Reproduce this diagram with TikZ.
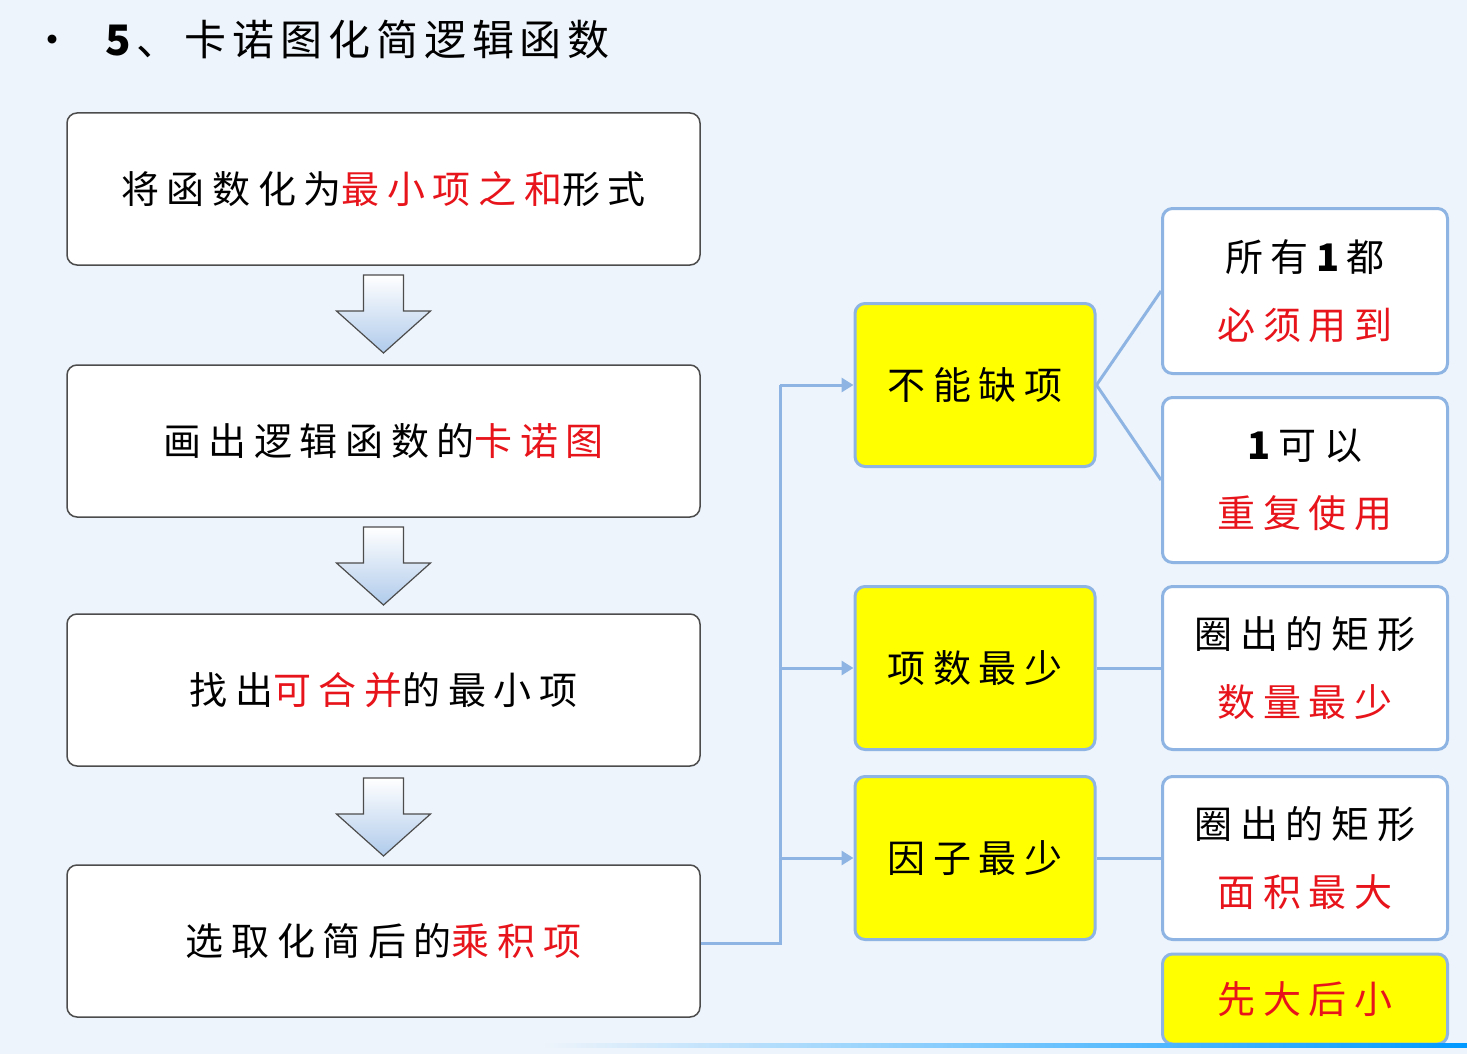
\documentclass[tikz,border=0pt]{standalone}
\usepackage{fontspec}
\setmainfont{Liberation Serif}
\newfontfamily\cjk[LetterSpace=20]{Noto Sans CJK SC}
\newfontfamily\cjkt[LetterSpace=14]{Noto Sans CJK SC}
\usetikzlibrary{arrows.meta}
\definecolor{bg}{HTML}{EEF4FB}
\definecolor{edge}{HTML}{8DB4E2}
\definecolor{rd}{HTML}{E8141B}
\definecolor{yl}{HTML}{FFFF00}
\begin{document}
\begin{tikzpicture}[x=1pt,y=-1pt,
 lbox/.style={draw=black!70,line width=1.5pt,rounded corners=10pt,fill=white,minimum width=633pt,minimum height=152pt,font=\cjk\fontsize{38}{44}\selectfont},
 ybox/.style={draw=edge,line width=3pt,rounded corners=10pt,fill=yl,minimum width=240pt,minimum height=163pt,font=\cjk\fontsize{38}{44}\selectfont},
 rbox/.style={draw=edge,line width=3pt,rounded corners=10pt,fill=white,minimum width=285pt,minimum height=165pt,align=center,font=\cjk\fontsize{38}{44}\selectfont},
 conn/.style={draw=edge,line width=3pt},
 harrow/.style={draw=black!70,line width=1.2pt,top color=white,bottom color=edge!70}]
\fill[bg] (0,0) rectangle (1467,1054);
\useasboundingbox (0,0) rectangle (1467,1054);
\node[anchor=west,font=\cjkt\fontsize{42}{48}\selectfont] (title) at (28,40) {•\hspace{26pt}\textbf{5}、卡诺图化简逻辑函数};
\node[lbox] (b1) at (383.5,189) {将函数化为\textcolor{rd}{最小项之和}形式};
\node[lbox] (b2) at (383.5,441) {画出逻辑函数的\textcolor{rd}{卡诺图}};
\node[lbox] (b3) at (383.5,690) {找出\textcolor{rd}{可合并}的最小项};
\node[lbox] (b4) at (383.5,941) {选取化简后的\textcolor{rd}{乘积项}};
\foreach \y [count=\i] in {275,527,778}{
 \path[harrow] (363.5,\y) -- (403.5,\y) -- (403.5,\y+36) -- (430.5,\y+36) -- (383.5,\y+78) -- (336.5,\y+36) -- (363.5,\y+36) -- cycle;
}
\node[ybox] (y1) at (975,385) {不能缺项};
\node[ybox] (y2) at (975,668) {项数最少};
\node[ybox] (y3) at (975,858) {因子最少};
\node[rbox] (r1) at (1305,291) {所有\textbf{1}都\\[24pt]\textcolor{rd}{必须用到}};
\node[rbox] (r2) at (1305,480) {\textbf{1}可以\\[24pt]\textcolor{rd}{重复使用}};
\node[rbox,minimum height=163pt] (r3) at (1305,668) {圈出的矩形\\[24pt]\textcolor{rd}{数量最少}};
\node[rbox,minimum height=163pt] (r4) at (1305,858) {圈出的矩形\\[24pt]\textcolor{rd}{面积最大}};
\node[rbox,fill=yl,minimum height=90pt] (r5) at (1305,999) {\textcolor{rd}{先大后小}};
\coordinate (j) at (780,943);
\draw[conn] (b4.east |- j) -- (j) -- (780,385);
\draw[conn,-{Triangle[length=12pt,width=14pt]}] (780,385) -- (y1.west);
\draw[conn,-{Triangle[length=12pt,width=14pt]}] (780,668) -- (y2.west);
\draw[conn,-{Triangle[length=12pt,width=14pt]}] (780,858) -- (y3.west);
\draw[conn] (y1.east) -- (r1.west);
\draw[conn] (y1.east) -- (r2.west);
\draw[conn] (y2.east) -- (r3.west);
\draw[conn] (y3.east) -- (r4.west);
\shade[left color=bg,right color=cyan!60!blue] (540,1043) rectangle (1467,1047);
\end{tikzpicture}
\end{document}
